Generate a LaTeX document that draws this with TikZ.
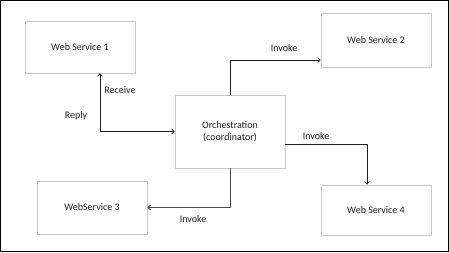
\documentclass[tikz,border=0pt]{standalone}
\usepackage{fontspec}
\setmainfont{Carlito}
\usepackage{xcolor}
\usepackage{tikz}
\usetikzlibrary{arrows.meta,positioning,shadows}
\definecolor{ink}{HTML}{1E1E1E}
\definecolor{boxline}{HTML}{C8C8C8}
\definecolor{wireline}{HTML}{202020}
\tikzset{
  servicebox/.style={
    draw=boxline,
    line width=0.8pt,
    fill=white,
    minimum width=110pt,
    minimum height=52pt,
    align=center,
    text=ink,
    font=\fontsize{10}{12}\selectfont,
    drop shadow={opacity=0.12, shadow xshift=1pt, shadow yshift=-1pt}
  },
  wire/.style={-{Straight Barb[length=2.5pt,width=5pt]}, line width=0.7pt, draw=wireline},
  wirelabel/.style={font=\fontsize{10}{12}\selectfont, text=ink}
}
\begin{document}
\begin{tikzpicture}[x=1pt,y=-1pt]
  \useasboundingbox (0,0) rectangle (449,252);
  \draw[line width=1pt] (0.5,0.5) rectangle (448.5,251.5);

  \node[servicebox] (ws1) at (80,47) {Web Service 1};
  \node[servicebox, minimum height=54pt] (ws2) at (376,40) {Web Service 2};
  \node[servicebox, minimum height=73pt] (orch) at (230,131.5) {Orchestration\\(coordinator)};
  \node[servicebox, minimum height=53pt] (ws3) at (92,207.5) {WebService 3};
  \node[servicebox, minimum height=50pt] (ws4) at (376,210) {Web Service 4};

  \draw[wire, {Straight Barb[length=2.5pt,width=5pt]}-{Straight Barb[length=2.5pt,width=5pt]}]
    ([xshift=20pt]ws1.south) |- (orch.west);
  \draw[wire] (orch.north) |- ([yshift=-20pt]ws2.west);
  \draw[wire] ([yshift=-12.5pt]orch.east) -| ([xshift=-9pt]ws4.north);
  \draw[wire, draw=black!70, line width=0.9pt] (orch.south) |- (ws3.east);

  \node[wirelabel] (receive) at (120,90) {Receive};
  \node[wirelabel] (reply) at (76,116) {Reply};
  \node[wirelabel] (inv2) at (284,48) {Invoke};
  \node[wirelabel] (inv4) at (316,136) {Invoke};
  \node[wirelabel] (inv3) at (193,219) {Invoke};
\end{tikzpicture}
\end{document}
